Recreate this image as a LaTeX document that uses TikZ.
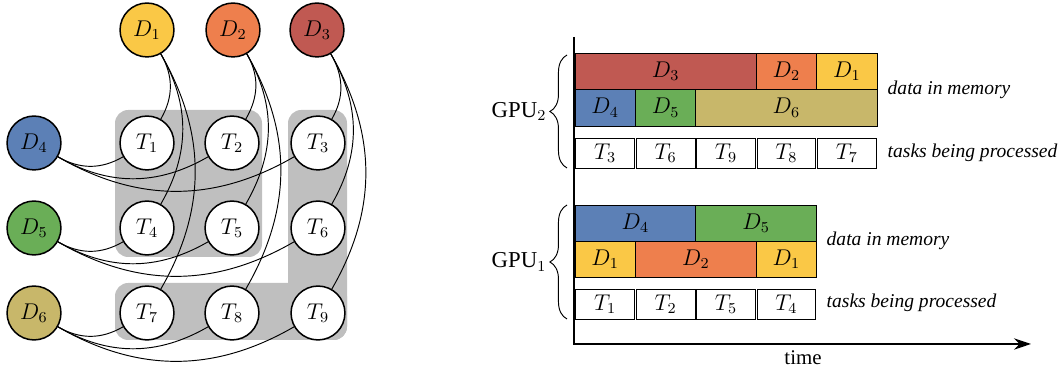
\documentclass[tikz,border=0pt]{standalone}
\usepackage{fontspec}
\setmainfont{Liberation Serif}
\usetikzlibrary{arrows.meta,decorations.pathreplacing}
\definecolor{cA}{HTML}{FAC846}
\definecolor{cB}{HTML}{EE7F4D}
\definecolor{cC}{HTML}{C05952}
\definecolor{cD}{HTML}{5C80B6}
\definecolor{cE}{HTML}{6AAE57}
\definecolor{cF}{HTML}{C8B76A}
\definecolor{grp}{gray}{0.75}
\newcommand\mycell[7]{%
  \draw[cellbox,fill=#6] (#2,#3) rectangle (#4,#5);
  \node[mathlbl] (#1) at ({(#2+#4)/2},{(#3+#5)/2}) {#7};}
\begin{document}
\begin{tikzpicture}[x=0.527pt,y=0.527pt,font=\fontsize{10}{12}\selectfont]
\tikzset{
  mathlbl/.style={font=\fontsize{11.5}{13}\selectfont},
  dnode/.style={circle,draw,line width=0.8pt,minimum size=28.4pt,inner sep=0pt,mathlbl},
  tnode/.style={dnode,fill=white},
  link/.style={line width=0.5pt},
  cellbox/.style={draw,line width=0.5pt},
  side/.style={anchor=west,font=\fontsize{10.3}{12}\selectfont\itshape},
  gpulbl/.style={anchor=east,font=\fontsize{12}{14}\selectfont},
  grbox/.style={fill=grp,rounded corners=7pt},
}
\useasboundingbox (0,0) rectangle (1060,-377);
% gray groups
\fill[grbox] (115,-110) rectangle (262,-257);
\fill[grbox] (288,-110) rectangle (347,-340);
\fill[grbox] (115,-283) rectangle (347,-340);
% data nodes
\node[dnode,fill=cA] (D1) at (147,-30) {$D_1$};
\node[dnode,fill=cB] (D2) at (233,-30) {$D_2$};
\node[dnode,fill=cC] (D3) at (317,-30) {$D_3$};
\node[dnode,fill=cD] (D4) at (34,-143) {$D_4$};
\node[dnode,fill=cE] (D5) at (34,-228) {$D_5$};
\node[dnode,fill=cF] (D6) at (34,-313) {$D_6$};
% task nodes
\node[tnode] (T1) at (147,-143) {$T_1$};
\node[tnode] (T2) at (232,-143) {$T_2$};
\node[tnode] (T3) at (318,-143) {$T_3$};
\node[tnode] (T4) at (147,-228) {$T_4$};
\node[tnode] (T5) at (232,-228) {$T_5$};
\node[tnode] (T6) at (318,-228) {$T_6$};
\node[tnode] (T7) at (147,-313) {$T_7$};
\node[tnode] (T8) at (232,-313) {$T_8$};
\node[tnode] (T9) at (318,-313) {$T_9$};
% edges
\foreach \d/\a/\b/\c in {D1/T1/T4/T7, D2/T2/T5/T8, D3/T3/T6/T9}{
  \draw[link] (\d) to[out=-60,in=60] (\a);
  \draw[link] (\d) to[out=-60,in=60] (\b);
  \draw[link] (\d) to[out=-60,in=60] (\c);
}
\foreach \d/\a/\b/\c in {D4/T1/T2/T3, D5/T4/T5/T6, D6/T7/T8/T9}{
  \draw[link] (\d) to[out=-30,in=-150] (\a);
  \draw[link] (\d) to[out=-30,in=-150] (\b);
  \draw[link] (\d) to[out=-30,in=-150] (\c);
}
% axes
\coordinate (ytop) at (574,-37);
\coordinate (orig) at (574,-344);
\coordinate (xend) at (1031,-344);
\draw[line width=0.7pt,-{Stealth[length=9pt,width=6pt]}] (ytop) -- (orig) -- (xend);
\node[font=\fontsize{11}{13}\selectfont] (time) at (803,-358) {time};
% GPU2
\mycell{gAa}{575}{-53.3}{756.2}{-89.5}{cC}{$D_3$}
\mycell{gAb}{756.2}{-53.3}{816.6}{-89.5}{cB}{$D_2$}
\mycell{gAc}{816.6}{-53.3}{877}{-89.5}{cA}{$D_1$}
\mycell{gBa}{575}{-89.5}{635.4}{-126}{cD}{$D_4$}
\mycell{gBb}{635.4}{-89.5}{695.8}{-126}{cE}{$D_5$}
\mycell{gBc}{695.8}{-89.5}{877}{-126}{cF}{$D_6$}
\mycell{gCa}{575.8}{-138}{634.6}{-168}{white}{$T_3$}
\mycell{gCb}{636.2}{-138}{695}{-168}{white}{$T_6$}
\mycell{gCc}{696.6}{-138}{755.4}{-168}{white}{$T_9$}
\mycell{gCd}{757}{-138}{815.8}{-168}{white}{$T_8$}
\mycell{gCe}{817.4}{-138}{876.2}{-168}{white}{$T_7$}
\node[side] (mem2) at (881,-89.5) {data in memory};
\node[side] (tsk2) at (881,-153) {tasks being processed};
\coordinate (br2a) at (567,-168);
\coordinate (br2b) at (567,-55);
\draw[line width=0.5pt,decorate,decoration={brace,amplitude=9}] (br2a) -- (br2b);
\node[gpulbl] (gpu2) at (553,-111.5) {GPU$_2$};
% GPU1
\mycell{hAa}{575}{-205}{695.8}{-241}{cD}{$D_4$}
\mycell{hAb}{695.8}{-205}{816.6}{-241}{cE}{$D_5$}
\mycell{hBa}{575}{-241}{635.4}{-277}{cA}{$D_1$}
\mycell{hBb}{635.4}{-241}{756.2}{-277}{cB}{$D_2$}
\mycell{hBc}{756.2}{-241}{816.6}{-277}{cA}{$D_1$}
\mycell{hCa}{575.8}{-289}{634.6}{-319}{white}{$T_1$}
\mycell{hCb}{636.2}{-289}{695}{-319}{white}{$T_2$}
\mycell{hCc}{696.6}{-289}{755.4}{-319}{white}{$T_5$}
\mycell{hCd}{757}{-289}{815.8}{-319}{white}{$T_4$}
\node[side] (mem1) at (820,-241) {data in memory};
\node[side] (tsk1) at (820,-303) {tasks being processed};
\coordinate (br1a) at (567,-319);
\coordinate (br1b) at (567,-205);
\draw[line width=0.5pt,decorate,decoration={brace,amplitude=9}] (br1a) -- (br1b);
\node[gpulbl] (gpu1) at (553,-262) {GPU$_1$};
\end{tikzpicture}
\end{document}
